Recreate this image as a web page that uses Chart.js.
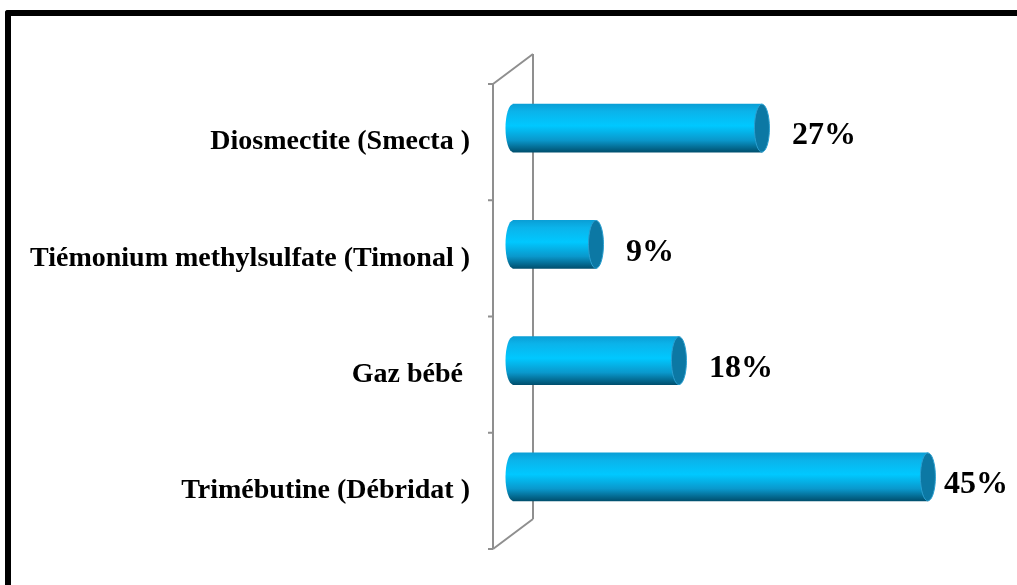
<!DOCTYPE html>
<html>
<head>
<meta charset="utf-8">
<script src="https://cdn.jsdelivr.net/npm/chart.js@4/dist/chart.umd.min.js"></script>
<style>
  html, body { margin: 0; padding: 0; background: #fff; overflow: hidden; }
  #wrap { position: relative; width: 1017px; height: 585px; }
  #frame {
    position: absolute; left: 5px; top: 10px; width: 1100px; height: 700px;
    border-left: 6px solid #000; border-top: 6px solid #000; border-radius: 3px 0 0 0;
  }
  canvas { position: absolute; left: 0; top: 0; }
</style>
</head>
<body>
<div id="wrap">
  <div id="frame"></div>
  <canvas id="chart" width="1017" height="585"></canvas>
</div>
<script>
// Data
const categories = ['Diosmectite (Smecta )', 'Tiémonium methylsulfate (Timonal )', 'Gaz bébé ', 'Trimébutine (Débridat )'];
const percents = [27, 9, 18, 45];

// 3D look: bars sit halfway into the wall depth
const depthX = 40, depthY = 30;
const barThick = 48;
const capRx = 7.5;

function barGradient(ctx, yMid) {
    const g = ctx.createLinearGradient(0, yMid - barThick / 2, 0, yMid + barThick / 2);
    g.addColorStop(0, '#0a9fd6');
    g.addColorStop(0.15, '#0bb3ea');
    g.addColorStop(0.45, '#00c8ff');
    g.addColorStop(0.75, '#0a98cc');
    g.addColorStop(1, '#00506f');
    return g;
}

const cylinderPlugin = {
    id: 'cylinder',
    beforeDatasetsDraw(chart) {
        const { ctx, chartArea } = chart;
        const n = categories.length;
        const band = (chartArea.bottom - chartArea.top) / n;
        ctx.save();
        ctx.strokeStyle = '#8f8f8f';
        ctx.lineWidth = 2;
        ctx.beginPath();
        // front wall
        ctx.moveTo(chartArea.left, chartArea.top);
        ctx.lineTo(chartArea.left, chartArea.bottom);
        // back wall
        ctx.moveTo(chartArea.left + depthX, chartArea.top - depthY);
        ctx.lineTo(chartArea.left + depthX, chartArea.bottom - depthY);
        // top and bottom edges
        ctx.moveTo(chartArea.left, chartArea.top);
        ctx.lineTo(chartArea.left + depthX, chartArea.top - depthY);
        ctx.moveTo(chartArea.left, chartArea.bottom);
        ctx.lineTo(chartArea.left + depthX, chartArea.bottom - depthY);
        // tick marks
        for (let i = 0; i <= n; i++) {
            const y = chartArea.top + i * band;
            ctx.moveTo(chartArea.left - 5, y);
            ctx.lineTo(chartArea.left, y);
        }
        ctx.stroke();
        ctx.restore();

        ctx.save();
        ctx.translate(depthX / 2, -depthY / 2 + 1);
    },
    afterDatasetsDraw(chart) {
        const { ctx } = chart;
        const meta = chart.getDatasetMeta(0);
        meta.data.forEach((bar, i) => {
            const yMid = bar.y;
            const h = bar.height;
            // left rounded end
            ctx.beginPath();
            ctx.ellipse(bar.base, yMid, capRx, h / 2, 0, Math.PI / 2, Math.PI * 1.5);
            ctx.closePath();
            ctx.fillStyle = barGradient(ctx, yMid);
            ctx.fill();
            // right end face
            ctx.beginPath();
            ctx.ellipse(bar.x, yMid, capRx, h / 2, 0, 0, Math.PI * 2);
            ctx.fillStyle = '#0c78a4';
            ctx.fill();
            ctx.strokeStyle = '#2a9fd0';
            ctx.lineWidth = 1;
            ctx.stroke();
            // value label, kept inside the frame
            const txt = percents[i] + '%';
            ctx.fillStyle = '#000';
            ctx.font = 'bold 32px "Liberation Serif", "Times New Roman", serif';
            ctx.textAlign = 'left';
            ctx.textBaseline = 'middle';
            const w = ctx.measureText(txt).width;
            const lx = Math.min(bar.x + 30, chart.width - depthX / 2 - 9 - w);
            ctx.fillText(txt, lx, yMid + 8);
        });
        ctx.restore();
    }
};

new Chart(document.getElementById('chart'), {
    type: 'bar',
    data: {
        labels: categories,
        datasets: [{
            data: percents,
            backgroundColor: (c) => {
                const chart = c.chart;
                if (!chart.chartArea || c.dataIndex === undefined) return '#00c8ff';
                // drawn under the plugin's translate, so use the untranslated centre
                const y = chart.scales.y.getPixelForValue(c.dataIndex);
                return barGradient(chart.ctx, y);
            },
            borderWidth: 0,
            barThickness: barThick,
            clip: false
        }]
    },
    options: {
        indexAxis: 'y',
        responsive: false,
        animation: false,
        devicePixelRatio: 1,
        layout: { padding: { top: 84, bottom: 36, left: 0, right: 63 } },
        plugins: {
            legend: { display: false },
            tooltip: { enabled: false }
        },
        scales: {
            x: {
                display: false,
                min: 0,
                max: 50
            },
            y: {
                grid: { display: false, drawTicks: false },
                border: { display: false },
                ticks: {
                    color: '#000',
                    padding: 23,
                    font: { family: '"Liberation Serif", "Times New Roman", serif', size: 28, weight: 'bold' }
                },
                afterFit(scale) {
                    scale.width = 493;
                    scale.paddingTop = 0;
                    scale.paddingBottom = 0;
                }
            }
        }
    },
    plugins: [cylinderPlugin]
});
</script>
</body>
</html>
